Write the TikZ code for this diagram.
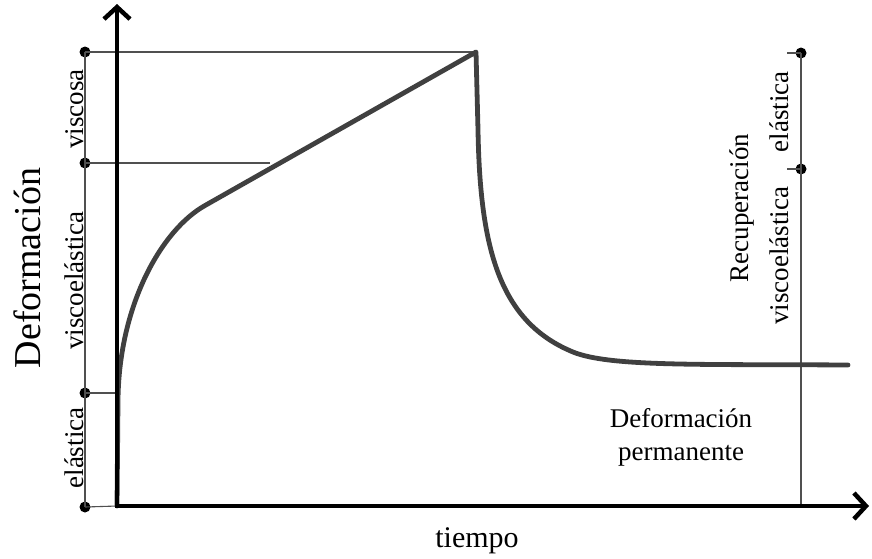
\documentclass[tikz,border=0pt]{standalone}
\usepackage{fontspec}
\setmainfont{Liberation Serif}
\usetikzlibrary{arrows.meta}
\definecolor{curvegray}{RGB}{64,64,64}
\definecolor{thingray}{RGB}{80,80,80}
\begin{document}
\begin{tikzpicture}[x=1pt,y=-1pt,
  axisline/.style={line width=4.5pt,{Straight Barb[length=12pt,width=26pt]}-{Straight Barb[length=12pt,width=26pt]}},
  thin/.style={line width=1.1pt,draw=thingray},
  curveline/.style={line width=4.8pt,draw=curvegray,line join=round,line cap=round},
  dotmark/.style={circle,fill=black,inner sep=0pt,minimum size=11pt},
  lab/.style={font=\fontsize{27}{32}\selectfont,inner sep=0pt},
  rlab/.style={lab,rotate=90,anchor=base}]
\useasboundingbox (0,0) rectangle (872,558);
% coordinates
\coordinate (ytip) at (117,4);
\coordinate (O) at (117,506);
\coordinate (xtip) at (869,506);
\coordinate (peak) at (476,52);
\coordinate (c163) at (270,163);
\coordinate (a393) at (117,393);
% left bracket dots
\node[dotmark] (d1) at (85,52) {};
\node[dotmark] (d2) at (85,163) {};
\node[dotmark] (d3) at (85,393) {};
\node[dotmark] (d4) at (85,507) {};
% right bracket dots
\node[dotmark] (r1) at (801,53) {};
\node[dotmark] (r2) at (801,169) {};
\coordinate (r0) at (801,506);
\coordinate (t1) at (787,53);
\coordinate (t2) at (787,169);
% thin lines
\draw[thin] (d1.center) -- (d4.center);
\draw[thin] (d1.center) -- (peak);
\draw[thin] (d2.center) -- (c163);
\draw[thin] (d3.center) -- (a393);
\draw[thin] (d4.center) -- (O);
\draw[thin] (r1.center) -- (r0);
\draw[thin] (t1) -- (r1.center);
\draw[thin] (t2) -- (r2.center);
% curve
\draw[curveline] (117,506) -- (118,400) .. controls (119,305) and (161.5,230) .. (205,205.5) -- (peak)
  -- (478,130) .. controls (480,250) and (500,322) .. (573,352) .. controls (610,367) and (700,364) .. (848,365);
% axes
\draw[axisline] (ytip) -- (O) -- (xtip);
% labels
\node[rlab] (lv) at (83,109) {viscosa};
\node[rlab] (lve) at (83,281) {viscoelástica};
\node[rlab] (le) at (83,448) {elástica};
\node[rlab,font=\fontsize{38}{42}\selectfont] (ylab) at (40,268) {Deformación};
\node[rlab] (rec) at (748,208) {Recuperación};
\node[rlab] (re) at (788,112) {elástica};
\node[rlab] (rve) at (788,256) {viscoelástica};
\node[lab,anchor=base] (tiempo) at (477,547) {\fontsize{30}{34}\selectfont tiempo};
\node[lab,anchor=base] (dp1) at (681,427) {Deformación};
\node[lab,anchor=base] (dp2) at (681,460) {permanente};
\end{tikzpicture}
\end{document}
